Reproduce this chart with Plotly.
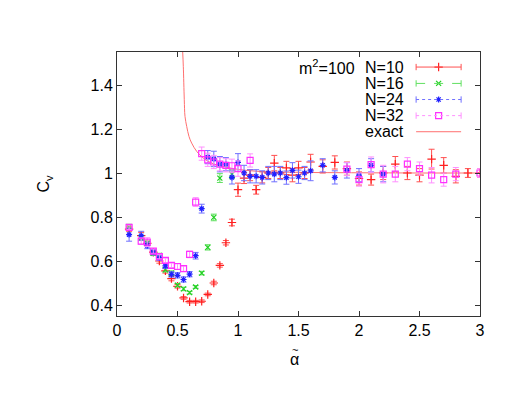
import plotly.graph_objects as go

# N=10
x10 = [0.1, 0.2, 0.25, 0.3, 0.35, 0.4, 0.45, 0.5, 0.55, 0.6, 0.65, 0.7, 0.75, 0.8, 0.85,
       0.9, 0.95, 1.0, 1.05, 1.1, 1.15, 1.2, 1.25, 1.3, 1.35, 1.4, 1.45, 1.5, 1.55, 1.6,
       1.7, 1.8, 1.9, 2.0, 2.1, 2.2, 2.3, 2.4, 2.5, 2.6, 2.7, 2.8, 2.9, 3.0]
y10 = [0.745, 0.715, 0.68, 0.64, 0.6, 0.555, 0.52, 0.485, 0.432, 0.415, 0.415, 0.417, 0.448, 0.5, 0.58,
       0.683, 0.775, 0.924, 0.977, 0.99, 0.924, 0.98, 1.0, 1.045, 1.0, 1.023, 0.99, 1.023, 1.0, 1.05,
       1.03, 1.048, 1.02, 0.975, 0.97, 1.0, 1.04, 1.0, 0.99, 1.063, 1.035, 0.985, 1.0, 1.0]
e10 = [0.01, 0.015, 0.01, 0.01, 0.01, 0.01, 0.01, 0.008, 0.006, 0.006, 0.006, 0.006, 0.006, 0.008, 0.008,
       0.01, 0.015, 0.03, 0.025, 0.025, 0.02, 0.025, 0.025, 0.035, 0.025, 0.03, 0.03, 0.03, 0.025, 0.035,
       0.03, 0.03, 0.03, 0.03, 0.025, 0.03, 0.035, 0.03, 0.03, 0.045, 0.035, 0.03, 0.02, 0.02]

# N=16
x16 = [0.1, 0.2, 0.25, 0.3, 0.35, 0.4, 0.45, 0.5, 0.55, 0.6, 0.65, 0.7, 0.75, 0.8, 0.85, 0.95]
y16 = [0.755, 0.705, 0.68, 0.635, 0.625, 0.56, 0.545, 0.49, 0.473, 0.456, 0.482, 0.545, 0.662, 0.798, 0.977, 0.995]
e16 = [0.012, 0.012, 0.01, 0.01, 0.01, 0.01, 0.01, 0.008, 0.008, 0.006, 0.006, 0.008, 0.012, 0.015, 0.02, 0.02]

# N=24
x24 = [0.1, 0.2, 0.25, 0.3, 0.35, 0.4, 0.45, 0.5, 0.55, 0.6, 0.65, 0.7, 0.75, 0.8, 0.85,
       0.9, 0.95, 1.0, 1.05, 1.1, 1.15, 1.2, 1.25, 1.3, 1.35, 1.4, 1.45, 1.5, 1.55, 1.6,
       1.7, 1.8, 1.9, 2.0, 2.1, 2.2]
y24 = [0.72, 0.715, 0.671, 0.64, 0.615, 0.578, 0.539, 0.535, 0.516, 0.54, 0.624, 0.838, 1.072, 1.064, 1.04,
       1.04, 0.98, 1.048, 1.0, 0.985, 0.985, 0.98, 1.0, 0.995, 1.0, 0.979, 1.012, 0.983, 1.0, 1.01,
       1.035, 0.98, 1.012, 0.99, 1.035, 0.995]
e24 = [0.03, 0.02, 0.015, 0.012, 0.012, 0.012, 0.012, 0.012, 0.012, 0.012, 0.015, 0.02, 0.03, 0.035, 0.035,
       0.03, 0.03, 0.04, 0.035, 0.03, 0.03, 0.03, 0.03, 0.035, 0.03, 0.03, 0.035, 0.03, 0.03, 0.045,
       0.03, 0.03, 0.035, 0.03, 0.03, 0.035]

# N=32
x32 = [0.1, 0.2, 0.25, 0.3, 0.35, 0.4, 0.45, 0.5, 0.55, 0.6, 0.65, 0.7, 0.75, 0.8, 0.85,
       0.9, 0.95, 1.0, 1.1, 1.9, 2.0, 2.1, 2.2, 2.3, 2.4, 2.5, 2.6, 2.7, 2.8, 3.0]
y32 = [0.753, 0.69, 0.686, 0.645, 0.62, 0.603, 0.58, 0.575, 0.565, 0.63, 0.868, 1.088, 1.06, 1.05, 1.04,
       1.035, 1.033, 1.02, 1.057, 1.018, 0.97, 1.038, 0.995, 0.995, 1.04, 1.02, 0.99, 0.97, 0.995, 1.0]
e32 = [0.01, 0.015, 0.02, 0.01, 0.01, 0.01, 0.01, 0.012, 0.012, 0.015, 0.02, 0.03, 0.03, 0.03, 0.03,
       0.03, 0.03, 0.035, 0.03, 0.03, 0.03, 0.035, 0.04, 0.035, 0.03, 0.03, 0.035, 0.03, 0.03, 0.02]

# exact curve
exact_x = [0.543, 0.548, 0.556, 0.562, 0.576, 0.595, 0.617, 0.659, 0.713, 0.796, 0.961, 1.18, 1.5, 2.0, 2.5, 3.0]
exact_y = [1.55, 1.485, 1.333, 1.257, 1.212, 1.166, 1.136, 1.098, 1.068, 1.042, 1.02, 1.007, 1.003, 1.001, 1.0, 1.0]

series = [
    ("N=10", x10, y10, e10, "#ff2020", "#ff5050", "cross-thin-open", 6, "solid"),
    ("N=16", x16, y16, e16, "#20d020", "#60e060", "x-thin-open", 5, "dash"),
    ("N=24", x24, y24, e24, "#2020ff", "#7070ff", "asterisk-open", 5, "dot"),
    ("N=32", x32, y32, e32, "#ff30ff", "#ff90ff", "square-open", 6, "dot"),
]

FONT = "Liberation Sans, Arial, sans-serif"
FS = 16

fig = go.Figure()
fig.add_trace(go.Scatter(x=exact_x, y=exact_y, mode="lines", line=dict(color="#ff7070", width=1),
                         line_shape="spline", showlegend=False))
for name, xs, ys, es, col, ecol, sym, sz, dash in series:
    fig.add_trace(go.Scatter(
        x=xs, y=ys, mode="markers", showlegend=False,
        marker=dict(symbol=sym, size=sz, color=col, line=dict(color=col, width=1.2)),
        error_y=dict(type="data", array=es, color=ecol, thickness=1, width=3),
    ))

# hand-built legend in gnuplot style (text right-aligned, sample on the right)
rows = [0.943, 0.881, 0.82, 0.759, 0.698]
x_txt, x0, x1, xm = 0.796, 0.824, 0.948, 0.886
for i, (name, xs, ys, es, col, ecol, sym, sz, dash) in enumerate(series):
    r = rows[i]
    fig.add_annotation(text=name, x=x_txt, y=r, xref="x domain", yref="y domain",
                       xanchor="right", yanchor="middle", showarrow=False, font=dict(size=FS, color="black"))
    fig.add_shape(type="line", x0=x0, x1=x1, y0=r, y1=r, xref="x domain", yref="y domain",
                  line=dict(color=ecol, width=1, dash=dash))
    for xe in (x0, x1):
        fig.add_shape(type="line", x0=xe, x1=xe, y0=r - 0.012, y1=r + 0.012, xref="x domain", yref="y domain",
                      line=dict(color=ecol, width=1))
    fig.add_trace(go.Scatter(x=[xm], y=[r], xaxis="x2", yaxis="y2", mode="markers", showlegend=False,
                             marker=dict(symbol=sym, size=sz, color=col, line=dict(color=col, width=1.2))))
fig.add_annotation(text="exact", x=x_txt, y=rows[4], xref="x domain", yref="y domain",
                   xanchor="right", yanchor="middle", showarrow=False, font=dict(size=FS, color="black"))
fig.add_shape(type="line", x0=x0, x1=x1, y0=rows[4], y1=rows[4], xref="x domain", yref="y domain",
              line=dict(color="#ff7070", width=1))
fig.add_annotation(text="m<sup>2</sup>=100", x=0.662, y=rows[0], xref="x domain", yref="y domain",
                   xanchor="right", yanchor="middle", showarrow=False, font=dict(size=FS, color="black"))

# x-axis title: alpha with a tilde on top
fig.add_annotation(text="α", x=0.49, y=-0.163, xref="paper", yref="paper", showarrow=False,
                   xanchor="center", yanchor="middle", font=dict(size=FS, color="black"))
fig.add_annotation(text="~", x=0.49, y=-0.128, xref="paper", yref="paper", showarrow=False,
                   xanchor="center", yanchor="middle", font=dict(size=11, color="black"))

axis_common = dict(showline=True, linecolor="#333333", linewidth=1, mirror="ticks", ticks="inside",
                   ticklen=5, tickcolor="#333333", showgrid=False, zeroline=False,
                   tickfont=dict(size=FS, color="black", family=FONT))
# the page body keeps its default 8px margin, so the figure is 8px smaller and margins shifted
fig.update_layout(
    width=515, height=396, margin=dict(l=109, r=43, t=44, b=88),
    plot_bgcolor="white", paper_bgcolor="white",
    font=dict(family=FONT, color="black"),
    xaxis=dict(range=[0, 3], tickvals=[0, 0.5, 1, 1.5, 2, 2.5, 3],
               ticktext=["0", "0.5", "1", "1.5", "2", "2.5", "3"], **axis_common),
    yaxis=dict(range=[0.35, 1.55], tickvals=[0.4, 0.6, 0.8, 1.0, 1.2, 1.4],
               ticktext=["0.4", "0.6", "0.8", "1", "1.2", "1.4"],
               title=dict(text="C<sub>v</sub>", font=dict(size=FS), standoff=36), **axis_common),
    xaxis2=dict(range=[0, 1], overlaying="x", visible=False),
    yaxis2=dict(range=[0, 1], overlaying="y", visible=False),
)

fig.write_html("out.html")
